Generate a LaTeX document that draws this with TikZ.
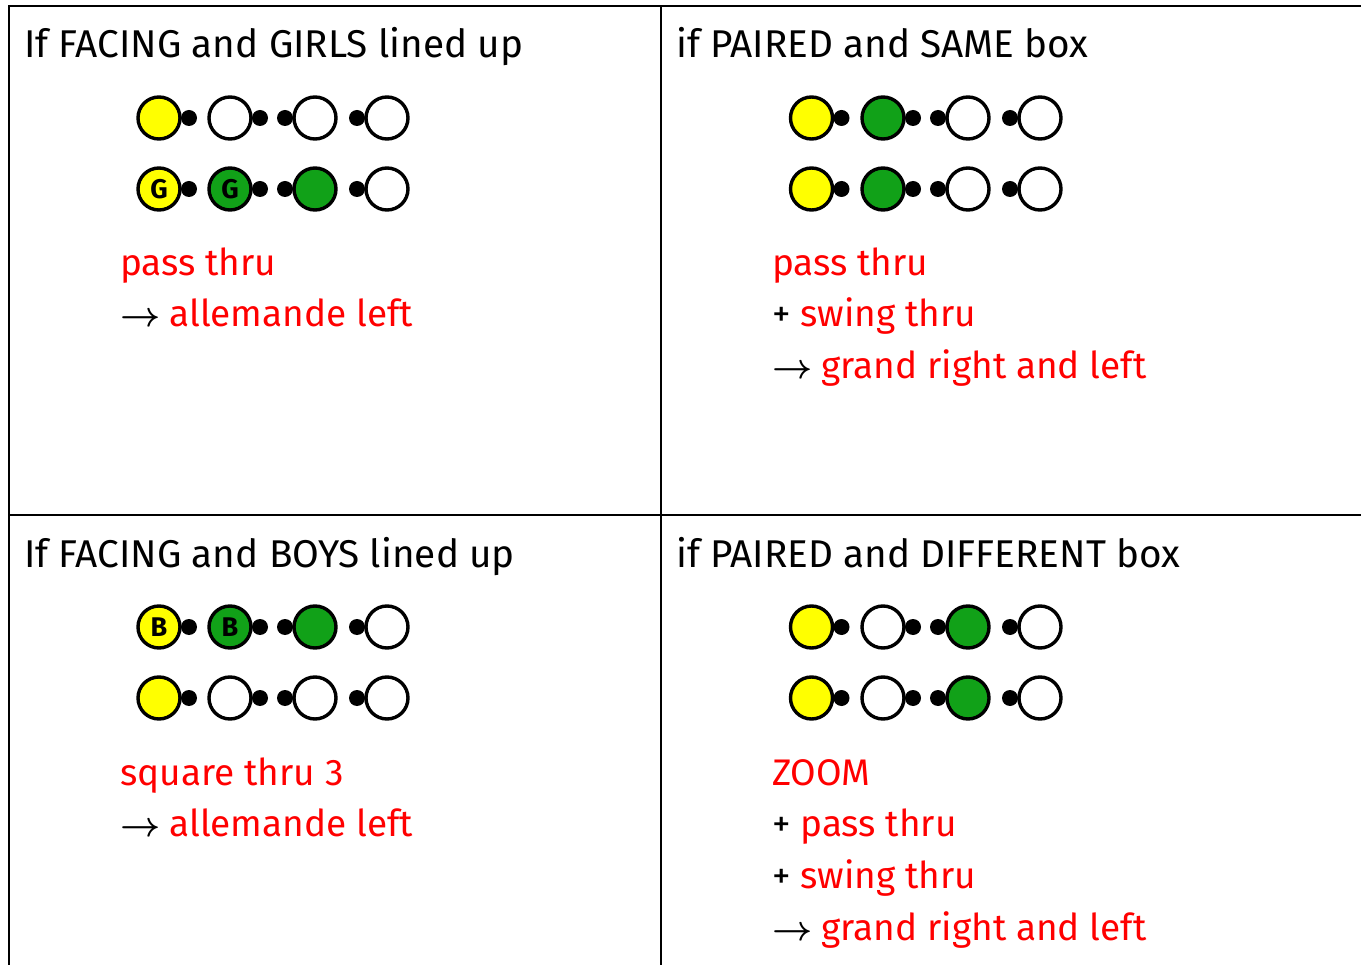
\documentclass[tikz,border=0pt]{standalone}
\usepackage{fontspec}
\setmainfont{Fira Sans}
\definecolor{dyellow}{RGB}{255,255,0}
\definecolor{dgreen}{RGB}{17,161,24}
\definecolor{cred}{RGB}{255,0,0}
\tikzset{
  body/.style={circle, draw=black, line width=3.4pt, minimum size=42pt, inner sep=0pt,
    font=\fontsize{27}{27}\selectfont\bfseries},
  nose/.style={circle, fill=black, minimum size=16pt, inner sep=0pt},
  head/.style={anchor=base west, inner sep=0pt, font=\fontsize{38.7}{39}\selectfont},
  call/.style={anchor=base west, inner sep=0pt, font=\fontsize{37}{37}\selectfont},
  gridline/.style={line width=2.5pt}
}
\newcommand\arr{\scalebox{3.5}{\normalsize\boldmath$\rightarrow$}\hspace{9pt}}
\newcommand\dancer[6]{%
  \node[nose] (#1n) at ({#2+(#5)*30},#3) {};
  \node[body, fill=#4] (#1) at (#2,#3) {#6};
}
\begin{document}
\begin{tikzpicture}[x=1pt,y=-1pt]
\useasboundingbox (0,0) rectangle (1361,965);
% grid
\draw[gridline] (9,975) -- (9,6) -- (1370,6);
\draw[gridline] (661,6) -- (661,975);
\draw[gridline] (9,515) -- (1370,515);

% ---------- top left
\node[head] (h1) at (24,58) {If FACING and GIRLS lined up};
\dancer{a1}{159}{118}{dyellow}{1}{}
\dancer{a2}{230}{118}{white}{1}{}
\dancer{a3}{315}{118}{white}{-1}{}
\dancer{a4}{387}{118}{white}{-1}{}
\dancer{a5}{159}{189}{dyellow}{1}{G}
\dancer{a6}{230}{189}{dgreen}{1}{G}
\dancer{a7}{315}{189}{dgreen}{-1}{}
\dancer{a8}{387}{189}{white}{-1}{}
\node[call, text=cred] (c1) at (120,276) {pass thru};
\node[call] (c2) at (120,327) {\arr\textcolor{cred}{allemande left}};

% ---------- top right
\node[head] (h2) at (676,58) {if PAIRED and SAME box};
\dancer{b1}{811.5}{118}{dyellow}{1}{}
\dancer{b2}{883}{118}{dgreen}{1}{}
\dancer{b3}{968}{118}{white}{-1}{}
\dancer{b4}{1040}{118}{white}{-1}{}
\dancer{b5}{811.5}{189}{dyellow}{1}{}
\dancer{b6}{883}{189}{dgreen}{1}{}
\dancer{b7}{968}{189}{white}{-1}{}
\dancer{b8}{1040}{189}{white}{-1}{}
\node[call, text=cred] (d1) at (772,276) {pass thru};
\node[call] (d2) at (772,327) {+ \textcolor{cred}{swing thru}};
\node[call] (d3) at (772,379) {\arr\textcolor{cred}{grand right and left}};

% ---------- bottom left
\node[head] (h3) at (24,567) {If FACING and BOYS lined up};
\dancer{e1}{159}{627}{dyellow}{1}{B}
\dancer{e2}{230}{627}{dgreen}{1}{B}
\dancer{e3}{315}{627}{dgreen}{-1}{}
\dancer{e4}{387}{627}{white}{-1}{}
\dancer{e5}{159}{698}{dyellow}{1}{}
\dancer{e6}{230}{698}{white}{1}{}
\dancer{e7}{315}{698}{white}{-1}{}
\dancer{e8}{387}{698}{white}{-1}{}
\node[call, text=cred] (f1) at (120,785) {square thru 3};
\node[call] (f2) at (120,836) {\arr\textcolor{cred}{allemande left}};

% ---------- bottom right
\node[head] (h4) at (676,567) {if PAIRED and DIFFERENT box};
\dancer{g1}{811.5}{627}{dyellow}{1}{}
\dancer{g2}{883}{627}{white}{1}{}
\dancer{g3}{968}{627}{dgreen}{-1}{}
\dancer{g4}{1040}{627}{white}{-1}{}
\dancer{g5}{811.5}{698}{dyellow}{1}{}
\dancer{g6}{883}{698}{white}{1}{}
\dancer{g7}{968}{698}{dgreen}{-1}{}
\dancer{g8}{1040}{698}{white}{-1}{}
\node[call, text=cred] (k1) at (772,785) {ZOOM};
\node[call] (k2) at (772,836) {+ \textcolor{cred}{pass thru}};
\node[call] (k3) at (772,888) {+ \textcolor{cred}{swing thru}};
\node[call] (k4) at (772,940) {\arr\textcolor{cred}{grand right and left}};
\end{tikzpicture}
\end{document}
